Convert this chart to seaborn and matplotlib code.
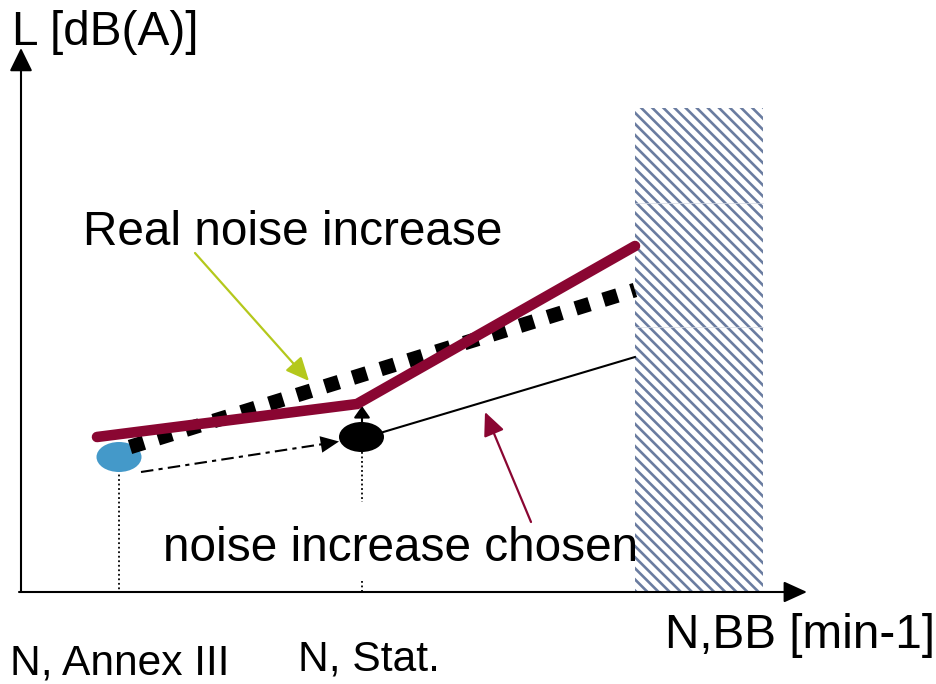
import matplotlib
matplotlib.use("Agg")
import matplotlib.pyplot as plt
from matplotlib.patches import Ellipse
import seaborn as sns

sns.set_theme(style="white")
plt.rcParams['font.family'] = ['Liberation Sans', 'DejaVu Sans']
plt.rcParams['hatch.linewidth'] = 1.9

# ---- data (schematic, in picture units) ----
real_x = [97, 357, 635]
real_y = [437, 404, 246]
dashed_x = [130, 635]
dashed_y = [447, 290]
chosen_x = [380, 635]
chosen_y = [433, 357]
dashdot_x = [141, 330]
dashdot_y = [472, 443]
annex_x = 119
stat_x = 362
zone_x = [635, 763]
zone_y = [108, 592]
axis_origin = (21, 592)
axis_y_top = 48
axis_x_right = 807

labels = {
    "ylabel": "L [dB(A)]",
    "xlabel": "N,BB [min-1]",
    "real": "Real noise increase",
    "chosen": "noise increase chosen",
    "annex": "N, Annex III",
    "stat": "N, Stat.",
}

RED = "#8a0632"
GREEN = "#b4c81c"
BLUE = "#4499c9"
HATCH = "#6a7ca0"

fig = plt.figure(figsize=(9.37, 6.84), dpi=100)
ax = fig.add_axes([0, 0, 1, 1])
ax.set_xlim(0, 937)
ax.set_ylim(684, 0)
ax.axis("off")

# hatched zone
ax.fill_between(zone_x, [zone_y[0]] * 2, [zone_y[1]] * 2, facecolor="white",
                edgecolor=HATCH, hatch="\\" * 3, linewidth=0, zorder=1)
for yy in (203, 327):
    ax.plot(zone_x, [yy, yy], color="#d4d9e3", lw=0.5, zorder=1.5)

# axes with arrows
ax.annotate("", xy=(axis_origin[0], axis_y_top), xytext=axis_origin,
            arrowprops=dict(arrowstyle="-|>,head_length=0.55,head_width=0.27",
                            lw=1.5, color="black", mutation_scale=26, shrinkA=0, shrinkB=0), zorder=5)
ax.annotate("", xy=(axis_x_right, axis_origin[1]), xytext=(axis_origin[0] - 2, axis_origin[1]),
            arrowprops=dict(arrowstyle="-|>,head_length=0.55,head_width=0.25",
                            lw=1.5, color="black", mutation_scale=26, shrinkA=0, shrinkB=0), zorder=5)

# dotted verticals
ax.plot([annex_x, annex_x], [452, 592], linestyle=(0, (1, 1.5)), color="black", lw=1.3, zorder=2)
ax.plot([stat_x, stat_x], [452, 502], linestyle=(0, (1, 1.5)), color="black", lw=1.3, zorder=2)
ax.plot([stat_x, stat_x], [581, 592], linestyle=(0, (1, 1.5)), color="black", lw=1.3, zorder=2)

# lines
sns.lineplot(x=chosen_x, y=chosen_y, sort=False, color="black", lw=1.5, ax=ax, zorder=3)
sns.lineplot(x=dashed_x, y=dashed_y, sort=False, color="black", lw=10.5,
             ax=ax, zorder=4, dashes=False)
ax.lines[-1].set_linestyle((0, (1.0, 1.0)))
ax.lines[-1].set_dash_capstyle("butt")
sns.lineplot(x=real_x, y=real_y, sort=False, color=RED, lw=7.6, ax=ax, zorder=5)
ax.lines[-1].set_solid_joinstyle("miter")

# ellipses
ax.add_patch(Ellipse((annex_x, 457), 45, 30, facecolor=BLUE, edgecolor="none", zorder=3))
ax.add_patch(Ellipse((stat_x - 0.5, 437), 45, 30, facecolor="black", edgecolor="none", zorder=6))

# dash-dot arrow
sns.lineplot(x=dashdot_x, y=dashdot_y, sort=False, color="black", lw=1.5, ax=ax, zorder=3)
ax.lines[-1].set_linestyle((0, (6, 2.5, 2, 2.5)))
ax.annotate("", xy=(339, 441.5), xytext=(dashdot_x[1] - 4, dashdot_y[1] + 0.6),
            arrowprops=dict(arrowstyle="-|>,head_length=0.55,head_width=0.25", lw=0,
                            color="black", mutation_scale=24, shrinkA=0, shrinkB=0), zorder=3)

# small up arrow from black dot to red line
ax.annotate("", xy=(stat_x, 406), xytext=(stat_x, 430),
            arrowprops=dict(arrowstyle="-|>,head_length=0.5,head_width=0.35", lw=1.5,
                            color="black", mutation_scale=14, shrinkA=0, shrinkB=0), zorder=4)

# pointer arrows
ax.annotate("", xy=(309, 381), xytext=(195, 253),
            arrowprops=dict(arrowstyle="-|>,head_length=0.55,head_width=0.25", lw=1.6,
                            color=GREEN, mutation_scale=26, shrinkA=0, shrinkB=0), zorder=6)
ax.annotate("", xy=(485, 412), xytext=(531, 522),
            arrowprops=dict(arrowstyle="-|>,head_length=0.55,head_width=0.25", lw=1.6,
                            color=RED, mutation_scale=26, shrinkA=0, shrinkB=0), zorder=6)

# texts
fs = 34.4
ax.text(12, 45, labels["ylabel"], fontsize=fs, va="baseline", ha="left", color="black")
ax.text(83, 245, labels["real"], fontsize=fs, va="baseline", ha="left", color="black")
ax.text(163, 561, labels["chosen"], fontsize=fs, va="baseline", ha="left", color="black", zorder=7)
ax.text(665, 648, labels["xlabel"], fontsize=fs, va="baseline", ha="left", color="black")
ax.text(10, 675, labels["annex"], fontsize=30.6, va="baseline", ha="left", color="black")
ax.text(298, 671, labels["stat"], fontsize=30.6, va="baseline", ha="left", color="black")

fig.savefig("out.png", dpi=100)
